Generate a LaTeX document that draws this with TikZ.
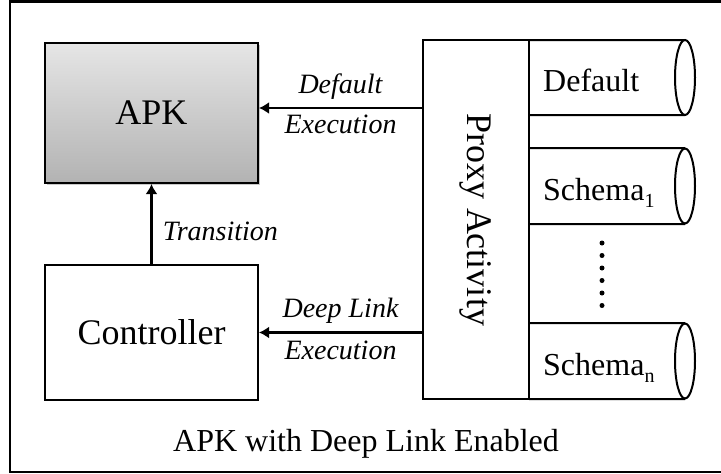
\documentclass[tikz,border=0pt]{standalone}
\usepackage{fontspec}
\setmainfont{Liberation Serif}
\usetikzlibrary{arrows.meta,shadows}

\newcommand{\schsub}[1]{\raisebox{-7pt}{\fontsize{20}{20}\selectfont #1}}

\begin{document}
\begin{tikzpicture}[x=1pt,y=-1pt,
    box/.style={draw,line width=2pt,minimum width=213pt,font=\fontsize{36}{40}\selectfont},
    arr/.style={-{Latex[length=10pt,width=12pt]},line width=2.5pt},
    lbl/.style={anchor=base,inner sep=0pt,font=\fontsize{28}{32}\selectfont\itshape},
    cyl/.style={line width=2pt},
    cyltext/.style={anchor=base west,inner sep=0pt,font=\fontsize{32}{36}\selectfont}]
  \useasboundingbox (0,0) rectangle (721,474);
  \clip (0,0) rectangle (721,474);
  \draw[line width=2.5pt] (10,1.5) rectangle (740,472);

  \node[box,minimum height=140pt,top color=gray!20,bottom color=gray!60,
        drop shadow={shadow xshift=2pt,shadow yshift=-2pt,fill=gray!70,opacity=.6}] (apk) at (151.5,113) {APK};
  \node[box,minimum height=135pt] (ctrl) at (151.5,332.5) {Controller};
  \node[box,minimum width=106pt,minimum height=359pt] (proxy) at (476,219.5) {\rotatebox{-90}{Proxy Activity}};

  \foreach \ytop/\ybot/\nm/\txt in {40/115/cdef/Default,148/224/cone/Schema\schsub{1},323/399/cn/Schema\schsub{n}} {
    \draw[cyl] (529,\ytop) -- (685,\ytop) (529,\ybot) -- (685,\ybot)
               (685,{(\ytop+\ybot)/2}) ellipse [x radius=10pt,y radius=37.5pt];
    \node[cyltext] (\nm) at (543,{(\ytop+\ybot)/2+14}) {\txt};
  }
  \foreach \i in {0,...,5}
    \fill (602,{243+12.5*\i}) circle (2.5pt);

  \draw[arr] (ctrl) -- (apk) node[lbl,anchor=base west,midway,xshift=10pt,yshift=-16pt] (ltrans) {Transition};
  \coordinate (dflt) at ([yshift=5pt]apk.east);
  \draw[arr] (dflt -| proxy.west) -- (dflt)
    node[lbl,midway,yshift=15pt] (ldef) {Default}
    node[lbl,midway,yshift=-25pt] (lexec) {Execution};
  \draw[arr] (proxy.west |- ctrl.east) -- (ctrl.east)
    node[lbl,midway,yshift=15pt] (ldeep) {Deep Link}
    node[lbl,midway,yshift=-27pt] (lexec2) {Execution};

  \node[anchor=base,font=\fontsize{32}{36}\selectfont] (caption) at (366,451) {APK with Deep Link Enabled};
\end{tikzpicture}
\end{document}
